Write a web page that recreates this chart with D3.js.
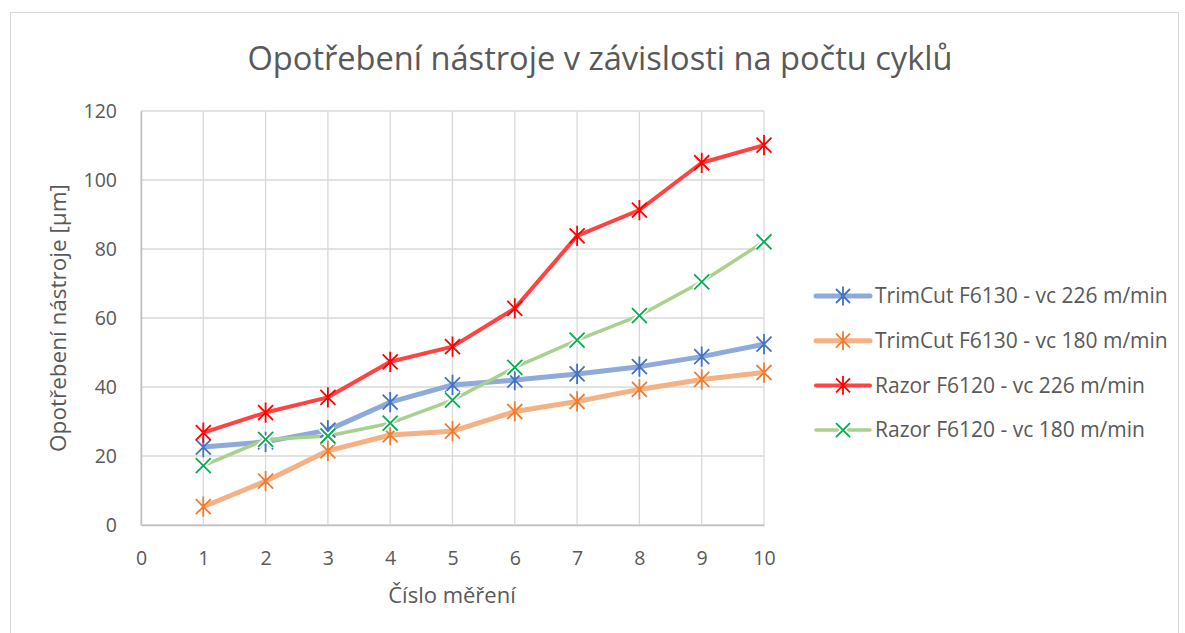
<!DOCTYPE html>
<html>
<head>
<meta charset="utf-8">
<script src="https://cdn.jsdelivr.net/npm/d3@7"></script>
<style>
  body { margin: 0; background: #fff; }
  text { font-family: "Open Sans", "Noto Sans", sans-serif; fill: #595959; }
</style>
</head>
<body>
<svg id="chart" width="1185" height="633"></svg>
<script>
// measurement numbers
const cycles = [1, 2, 3, 4, 5, 6, 7, 8, 9, 10];
const xTicks = [0, 1, 2, 3, 4, 5, 6, 7, 8, 9, 10];
const yTicks = [0, 20, 40, 60, 80, 100, 120];

// wear values [µm]
const trimCut226 = [22.6, 24.1, 27.5, 35.6, 40.6, 42.0, 43.8, 45.9, 48.8, 52.4];
const trimCut180 = [5.3, 12.7, 21.5, 26.1, 27.2, 32.9, 35.8, 39.3, 42.2, 44.2];
const razor226   = [26.8, 32.6, 37.0, 47.3, 51.7, 62.8, 83.8, 91.3, 105.0, 110.1];
const razor180   = [17.2, 24.8, 25.8, 29.5, 36.2, 45.7, 53.6, 60.7, 70.5, 82.1];

const seriesNames = [
    "TrimCut F6130 - vc 226 m/min",
    "TrimCut F6130 - vc 180 m/min",
    "Razor F6120 - vc 226 m/min",
    "Razor F6120 - vc 180 m/min"
];

const series = [
    {name: seriesNames[0], values: trimCut226, line: "#8eaadb", mark: "#4472c4", width: 5, marker: "star"},
    {name: seriesNames[1], values: trimCut180, line: "#f4b183", mark: "#ed7d31", width: 5, marker: "star"},
    {name: seriesNames[2], values: razor226,   line: "#ff4343", mark: "#ff0000", width: 4, marker: "star"},
    {name: seriesNames[3], values: razor180,   line: "#a9d18e", mark: "#00b050", width: 3.5, marker: "x"}
];

const svg = d3.select("#chart");

// chart frame
svg.append("rect")
    .attr("x", 10.5).attr("y", 12.5)
    .attr("width", 1168).attr("height", 640)
    .attr("fill", "none")
    .attr("stroke", "#d9d9d9");

const x = d3.scaleLinear().domain([0, 10]).range([141, 764]);
const y = d3.scaleLinear().domain([0, 120]).range([525, 111]);

// grid
svg.append("g")
    .selectAll("line")
    .data(yTicks)
    .join("line")
    .attr("x1", x(0)).attr("x2", x(10))
    .attr("y1", d => y(d)).attr("y2", d => y(d))
    .attr("stroke", "#d9d9d9").attr("stroke-width", 1.3);

svg.append("g")
    .selectAll("line")
    .data(xTicks)
    .join("line")
    .attr("x1", d => x(d)).attr("x2", d => x(d))
    .attr("y1", y(0)).attr("y2", y(120))
    .attr("stroke", "#d9d9d9").attr("stroke-width", 1.3);

// axes
const xAxis = svg.append("g")
    .attr("transform", `translate(0,${y(0)})`)
    .call(d3.axisBottom(x).tickValues(xTicks).tickSize(0).tickPadding(26));
xAxis.select(".domain").attr("stroke", "#bfbfbf").attr("stroke-width", 1.5);
xAxis.selectAll("text").style("font-size", "19.5px").attr("fill", "#595959");

const yAxis = svg.append("g")
    .attr("transform", `translate(${x(0)},0)`)
    .call(d3.axisLeft(y).tickValues(yTicks).tickSize(0).tickPadding(24));
yAxis.select(".domain").attr("stroke", "#bfbfbf").attr("stroke-width", 1.5);
yAxis.selectAll("text").style("font-size", "19.5px").attr("fill", "#595959");

// lines
const line = d3.line()
    .x((d, i) => x(cycles[i]))
    .y(d => y(d));

svg.append("g")
    .selectAll("path")
    .data(series)
    .join("path")
    .attr("d", d => line(d.values))
    .attr("fill", "none")
    .attr("stroke", d => d.line)
    .attr("stroke-width", d => d.width)
    .attr("stroke-linejoin", "round");

function markerPath(type, s) {
    const p = d3.path();
    p.moveTo(-s, -s); p.lineTo(s, s);
    p.moveTo(-s, s); p.lineTo(s, -s);
    if (type === "star") { p.moveTo(0, -s * 1.35); p.lineTo(0, s * 1.35); }
    return p.toString();
}

series.forEach(s => {
    const g = svg.append("g");
    const pts = s.values.map((v, i) => [x(cycles[i]), y(v)]);
    if (s.marker === "x") {
        g.selectAll(".halo")
            .data(pts)
            .join("path")
            .attr("class", "halo")
            .attr("transform", d => `translate(${d[0]},${d[1]})`)
            .attr("d", markerPath("x", 7.5))
            .attr("stroke", "#fff").attr("stroke-width", 5).attr("fill", "none");
    }
    g.selectAll(".mk")
        .data(pts)
        .join("path")
        .attr("class", "mk")
        .attr("transform", d => `translate(${d[0]},${d[1]})`)
        .attr("d", markerPath(s.marker, 7.5))
        .attr("stroke", s.mark).attr("stroke-width", 1.8).attr("fill", "none");
});

// title
svg.append("text")
    .attr("x", 600).attr("y", 70)
    .attr("text-anchor", "middle")
    .style("font-size", "32px")
    .attr("textLength", 705)
    .attr("lengthAdjust", "spacingAndGlyphs")
    .text("Opotřebení nástroje v závislosti na počtu cyklů");

// axis titles
svg.append("text")
    .attr("transform", `translate(66,${(y(0) + y(120)) / 2}) rotate(-90)`)
    .attr("text-anchor", "middle")
    .style("font-size", "22.5px")
    .text("Opotřebení nástroje [µm]");

svg.append("text")
    .attr("x", 452).attr("y", 603)
    .attr("text-anchor", "middle")
    .style("font-size", "22px")
    .text("Číslo měření");

// legend
const legend = svg.append("g")
    .selectAll("g")
    .data(series)
    .join("g")
    .attr("transform", (d, i) => `translate(816,${296 + i * 44.7})`);

legend.append("line")
    .attr("x1", 0).attr("x2", 54)
    .attr("stroke", d => d.line)
    .attr("stroke-width", d => d.width)
    .attr("stroke-linecap", "round");

legend.filter(d => d.marker === "x").append("path")
    .attr("transform", "translate(27,0)")
    .attr("d", markerPath("x", 7))
    .attr("stroke", "#fff").attr("stroke-width", 5).attr("fill", "none");

legend.append("path")
    .attr("transform", "translate(27,0)")
    .attr("d", d => markerPath(d.marker, 7))
    .attr("stroke", d => d.mark).attr("stroke-width", 1.8).attr("fill", "none");

legend.append("text")
    .attr("x", 59).attr("y", 0)
    .attr("dy", "0.35em")
    .style("font-size", "21px")
    .text(d => d.name);
</script>
</body>
</html>
